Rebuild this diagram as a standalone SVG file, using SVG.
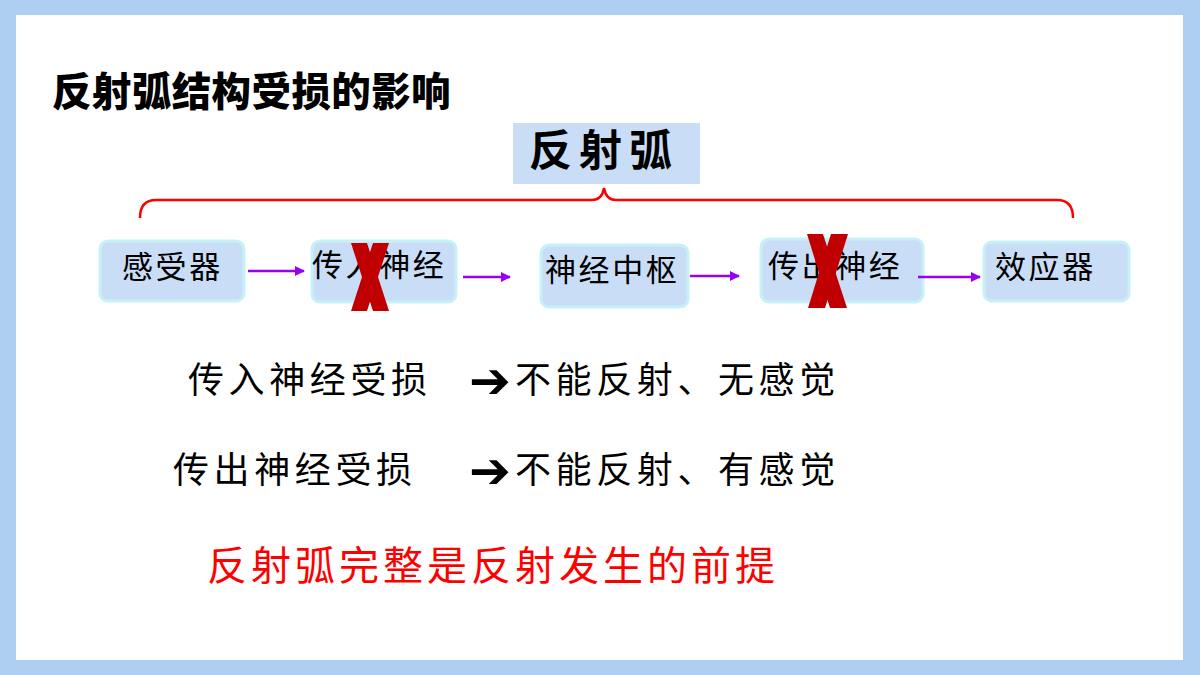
<svg xmlns="http://www.w3.org/2000/svg" width="1200" height="675" viewBox="0 0 1200 675">
<style>
.cjk{font-family:"Noto Sans CJK SC","Noto Sans",sans-serif;fill:#000}
.node rect{fill:#c9ddf6;stroke:#c6f1f6;stroke-width:3}
.ntext{font-size:31px;letter-spacing:2.6px}
.line{font-size:36px;letter-spacing:4.6px}
.arr{font-family:"DejaVu Sans",sans-serif;font-size:50px;fill:#000}
.conn line{stroke:#9a00f0;stroke-width:2.5;marker-end:url(#ah)}
.xmark{fill:#c00000}
</style>
<defs>
<marker id="ah" viewBox="0 0 10 10" refX="9" refY="5" markerWidth="4" markerHeight="4" orient="auto" markerUnits="strokeWidth">
<path d="M0,0 L10,5 L0,10 Z" fill="#9a00f0"/>
</marker>
</defs>
<rect x="0" y="0" width="1200" height="675" fill="#aecff2"/>
<rect x="16" y="15" width="1167" height="645" fill="#ffffff"/>

<text id="title" class="cjk" x="52" y="106" font-size="39.5" font-weight="900" letter-spacing="0.4">反射弧结构受损的影响</text>

<g id="header">
<rect x="513" y="123" width="187" height="61" fill="#c9ddf6"/>
<text class="cjk" x="529" y="166" font-size="43" letter-spacing="7" font-weight="bold">反射弧</text>
</g>

<path id="brace" d="M140,218 Q140,200 156,200 L592,200 Q602,200 604,188 Q606,200 616,200 L1057,200 Q1073,200 1073,218" fill="none" stroke="#ff0000" stroke-width="2.5"/>

<g id="n1" class="node"><rect x="100" y="241" width="144" height="60" rx="8"/><text class="cjk ntext" x="122" y="278">感受器</text></g>
<g id="n2" class="node"><rect x="312" y="241" width="144" height="61" rx="8"/><text class="cjk ntext" x="312" y="276">传入神经</text></g>
<g id="n3" class="node"><rect x="541" y="245" width="147" height="62" rx="8"/><text class="cjk ntext" x="545" y="281">神经中枢</text></g>
<g id="n4" class="node"><rect x="761" y="239" width="162" height="63" rx="8"/><text class="cjk ntext" x="768" y="277">传出神经</text></g>
<g id="n5" class="node"><rect x="984" y="242" width="145" height="59" rx="8"/><text class="cjk ntext" x="995" y="278">效应器</text></g>

<g id="connectors" class="conn">
<line x1="248" y1="271" x2="304" y2="271"/>
<line x1="463" y1="277" x2="510" y2="277"/>
<line x1="690" y1="276" x2="739" y2="276"/>
<line x1="918" y1="277" x2="980" y2="277"/>
</g>

<g id="x1" class="xmark">
<polygon points="351,243 367,243 389,311 373,311"/>
<polygon points="373,243 389,243 367,311 351,311"/>
</g>
<g id="x2" class="xmark">
<polygon points="807,234 823,234 847,308 830,308"/>
<polygon points="831,234 848,234 825,308 808,308"/>
</g>

<g id="row1">
<text class="cjk line" x="188" y="393">传入神经受损</text>
<text class="arr" x="469" y="398">➔</text>
<text class="cjk line" x="515" y="393">不能反射、无感觉</text>
</g>
<g id="row2">
<text class="cjk line" x="173" y="483">传出神经受损</text>
<text class="arr" x="469" y="488">➔</text>
<text class="cjk line" x="515" y="483">不能反射、有感觉</text>
</g>

<text id="conclusion" class="cjk" x="207" y="580" font-size="40" letter-spacing="4" style="fill:#ff0000">反射弧完整是反射发生的前提</text>
</svg>
